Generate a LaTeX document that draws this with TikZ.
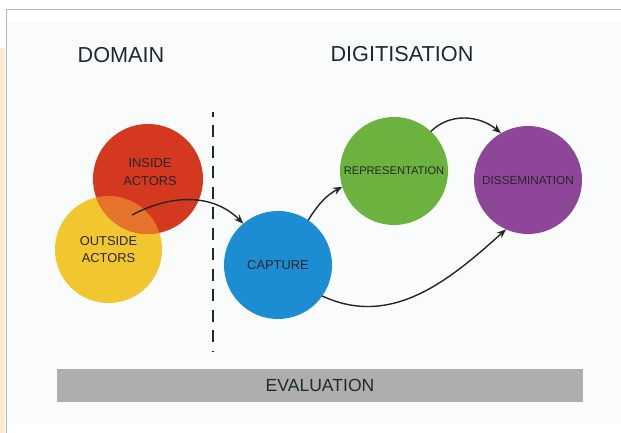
\documentclass[tikz,border=0pt]{standalone}
\usepackage{fontspec}
\setmainfont{Liberation Sans}
\usepackage{tikz}
\usetikzlibrary{arrows.meta}

\definecolor{stripcol}{HTML}{FDEBD1}
\definecolor{panelcol}{HTML}{FAFBFB}
\definecolor{framecol}{HTML}{B4B4B4}
\definecolor{inkcol}{HTML}{1E2A33}
\definecolor{insidecol}{HTML}{D4391F}
\definecolor{outsidecol}{HTML}{F1C62F}
\definecolor{overlapcol}{HTML}{E6732B}
\definecolor{capturecol}{HTML}{1C8DD3}
\definecolor{reprcol}{HTML}{6CB23E}
\definecolor{dissemcol}{HTML}{8D4698}
\definecolor{barcol}{HTML}{AEAEAE}

\begin{document}
\begin{tikzpicture}[x=0.03cm,y=-0.03cm,
        stage/.style = {circle, fill=#1, minimum size=3.24cm, inner sep=0pt, outer sep=0pt,
                        align=center, text=black!85, font=\fontsize{11}{14}\selectfont},
        tag/.style = {align=center, text=black!85, font=\fontsize{11}{15}\selectfont, inner sep=0pt},
        heading/.style = {text=inkcol, font=\fontsize{18.5}{20}\selectfont, inner sep=0pt},
        flow/.style = {-{Stealth[length=2.8mm,width=2.2mm]}, line width=1.2pt, draw=black!85},
        divider/.style = {draw=inkcol, line width=2.4pt, dash pattern=on 10pt off 7.5pt, dash phase=6pt},
    ]
    \useasboundingbox (0,0) rectangle (621,433);
    % page, side strip and frame
    \fill[white] (0,0) rectangle (621,433);
    \fill[stripcol] (0,48) rectangle (5,433);
    \fill[panelcol] (7,22) rectangle (621,423);
    \draw[framecol, line width=0.8pt] (6,433) -- (6,9.5) -- (621,9.5);

    % headings
    \node[heading] (domain) at (121,55.5) {DOMAIN};
    \node[heading] (digit) at (402,54.5) {DIGITISATION};

    % dashed split between the two parts
    \draw[divider] (213,112) -- (213,352);

    % actors
    \node[stage=outsidecol, minimum size=3.21cm] (outside) at (108.5,249.5) {OUTSIDE\\ACTORS};
    \node[stage=insidecol, minimum size=3.3cm] (inside) at (148,179) {};
    \begin{scope}
        \clip (outside.center) circle (53.5);
        \fill[overlapcol] (inside.center) circle (55);
    \end{scope}
    \node[tag] (insidetext) at (150,172) {INSIDE\\ACTORS};
    \coordinate (join) at (132,215);

    % stages
    \node[stage=capturecol] (capture) at (278,265) {CAPTURE};
    \node[stage=reprcol, font=\fontsize{9.5}{11}\selectfont] (repr) at (394,171) {REPRESENTATION};
    \node[stage=dissemcol, font=\fontsize{10}{11}\selectfont] (dissem) at (528,180) {DISSEMINATION};

    % flows
    \draw[flow] (join) to[out=28,in=135] (capture.130);
    \draw[flow] (capture.56) to[out=58,in=208] (repr.197);
    \draw[flow] (repr.47) to[out=45,in=140] (dissem.120);
    \draw[flow] (capture.-35) to[out=-25,in=222] (dissem.246);

    % evaluation bar
    \node[fill=barcol, minimum width=15.78cm, minimum height=0.99cm, inner sep=0pt,
          text=inkcol, font=\fontsize{15}{16}\selectfont] (eval) at (320,385.5) {EVALUATION};
\end{tikzpicture}
\end{document}
